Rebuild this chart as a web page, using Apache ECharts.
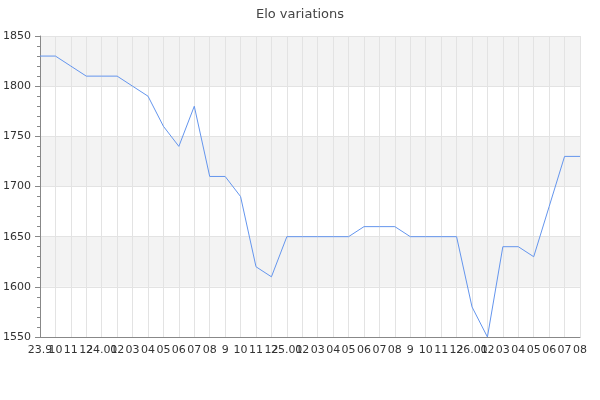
<!DOCTYPE html>
<html>
<head>
<meta charset="utf-8">
<script src="https://cdn.jsdelivr.net/npm/echarts@6/dist/echarts.min.js"></script>
<style>html,body{margin:0;padding:0;background:#fff}#c{width:600px;height:400px}</style>
</head>
<body>
<div id="c"></div>
<script>
var categories = ['23.9','10','11','12','24.01','02','03','04','05','06','07','08','9','10','11','12','25.01','02','03','04','05','06','07','08','9','10','11','12','26.01','02','03','04','05','06','07','08'];
var eloValues = [1830,1830,1820,1810,1810,1810,1800,1790,1760,1740,1780,1710,1710,1690,1620,1610,1650,1650,1650,1650,1650,1660,1660,1660,1650,1650,1650,1650,1580,1550,1640,1640,1630,1680,1730,1730];
var yTicks = {min:1550, max:1850, interval:50};

var chart = echarts.init(document.getElementById('c'));
chart.setOption({
  animation: false,
  title: {text:'Elo variations', left:'center', top:3, textStyle:{fontFamily:'DejaVu Sans', fontSize:13, fontWeight:'normal', color:'#444'}},
  grid: {left:40, right:20, top:36, bottom:63},
  xAxis: {
    type:'category', data:categories, boundaryGap:false,
    axisLine:{lineStyle:{color:'#888'}},
    axisTick:{show:false},
    axisLabel:{interval:0, color:'#333', fontFamily:'DejaVu Sans', fontSize:11, margin:8},
    splitLine:{show:true, interval:0, lineStyle:{color:'#e3e3e3'}}
  },
  yAxis: {
    type:'value', min:yTicks.min, max:yTicks.max, interval:yTicks.interval,
    axisLine:{show:true, lineStyle:{color:'#888'}},
    axisTick:{show:true, length:5, lineStyle:{color:'#888'}},
    minorTick:{show:true, splitNumber:5, length:3, lineStyle:{color:'#888'}},
    axisLabel:{color:'#333', fontFamily:'DejaVu Sans', fontSize:11, margin:9, formatter:function(v){return String(v);}},
    splitLine:{show:true, lineStyle:{color:'#e3e3e3'}},
    splitArea:{show:true, areaStyle:{color:['#ffffff','#f3f3f3']}}
  },
  series: [{
    type:'line', data:eloValues, showSymbol:false, symbol:'none',
    lineStyle:{color:'#6495ed', width:1}
  }]
});
</script>
</body>
</html>
